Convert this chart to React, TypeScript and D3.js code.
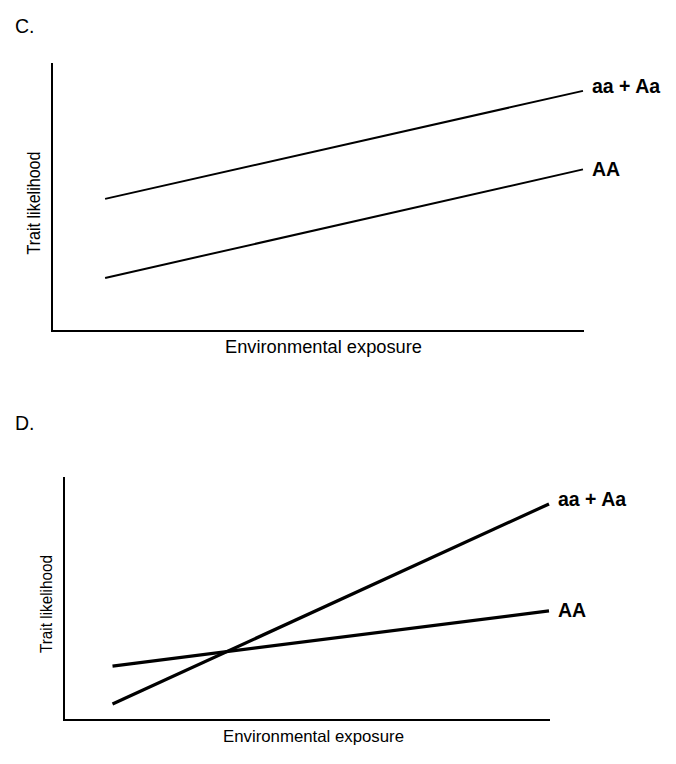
import React from "react";
import * as d3 from "d3";

// Panel C: parallel lines
const xPoints = [1, 10];
const seriesNames = ["aa + Aa", "AA"];
const cAaAa = [4.93, 8.96];
const cAA = [1.98, 6.03];
// Panel D: crossing lines
const dAaAa = [0.66, 8.89];
const dAA = [2.22, 4.49];

const panelLabels = ["C.", "D."];
const xTitle = "Environmental exposure";
const yTitle = "Trait likelihood";

const FONT = "'Liberation Sans', Arial, Helvetica, sans-serif";

type Panel = {
  label: string;
  labelPos: [number, number];
  x0: number; x1: number; y0: number; y1: number;
  axisEnd: number;
  series: { name: string; values: number[]; dy: number }[];
  lineWidth: number;
  xTitlePos: [number, number, number];
  yTitlePos: [number, number, number];
  titleSize: number;
};

const panels: Panel[] = [
  {
    label: panelLabels[0], labelPos: [15, 33],
    x0: 52, x1: 583, y0: 331, y1: 63, axisEnd: 584,
    series: [
      { name: seriesNames[0], values: cAaAa, dy: 2.5 },
      { name: seriesNames[1], values: cAA, dy: 6.5 },
    ],
    lineWidth: 2,
    xTitlePos: [225, 353, 197],
    yTitlePos: [40, 203, 103],
    titleSize: 17.5,
  },
  {
    label: panelLabels[1], labelPos: [15, 430],
    x0: 64, x1: 549, y0: 720, y1: 477, axisEnd: 550,
    series: [
      { name: seriesNames[0], values: dAaAa, dy: 2.5 },
      { name: seriesNames[1], values: dAA, dy: 6.5 },
    ],
    lineWidth: 3.2,
    xTitlePos: [223, 742, 181],
    yTitlePos: [52, 604, 98],
    titleSize: 16.5,
  },
];

function PanelView({ p }: { p: Panel }) {
  const x = d3.scaleLinear().domain([0, 10]).range([p.x0, p.x1]);
  const y = d3.scaleLinear().domain([0, 10]).range([p.y0, p.y1]);
  const line = d3.line<number>().x((_, i) => x(xPoints[i])).y((v) => y(v));
  return (
    <g>
      <text x={p.labelPos[0]} y={p.labelPos[1]} fontFamily={FONT} fontSize={19.5} fill="#000">
        {p.label}
      </text>
      <path d={`M${p.x0},${y(10)}V${p.y0}H${p.axisEnd}`} fill="none" stroke="#000" strokeWidth={2} />
      {p.series.map((s) => {
        const endX = x(xPoints[xPoints.length - 1]);
        const endY = y(s.values[s.values.length - 1]);
        return (
          <g key={s.name}>
            <path d={line(s.values) || ""} fill="none" stroke="#000" strokeWidth={p.lineWidth} />
            <text x={endX + 9} y={endY + s.dy} fontFamily={FONT} fontWeight="bold" fontSize={19.5} fill="#000">
              {s.name}
            </text>
          </g>
        );
      })}
      <text
        x={p.xTitlePos[0]}
        y={p.xTitlePos[1]}
        fontFamily={FONT}
        fontSize={p.titleSize}
        textLength={p.xTitlePos[2]}
        lengthAdjust="spacingAndGlyphs"
        fill="#000"
      >
        {xTitle}
      </text>
      <text
        transform={`translate(${p.yTitlePos[0]},${p.yTitlePos[1]}) rotate(-90)`}
        textAnchor="middle"
        fontFamily={FONT}
        fontSize={p.titleSize}
        textLength={p.yTitlePos[2]}
        lengthAdjust="spacingAndGlyphs"
        fill="#000"
      >
        {yTitle}
      </text>
    </g>
  );
}

export default function App() {
  return (
    <svg
      width={676}
      height={764}
      style={{ position: "absolute", left: 0, top: 0, background: "#fff" }}
    >
      <rect width={676} height={764} fill="#fff" />
      {panels.map((p) => (
        <PanelView key={p.label} p={p} />
      ))}
    </svg>
  );
}
